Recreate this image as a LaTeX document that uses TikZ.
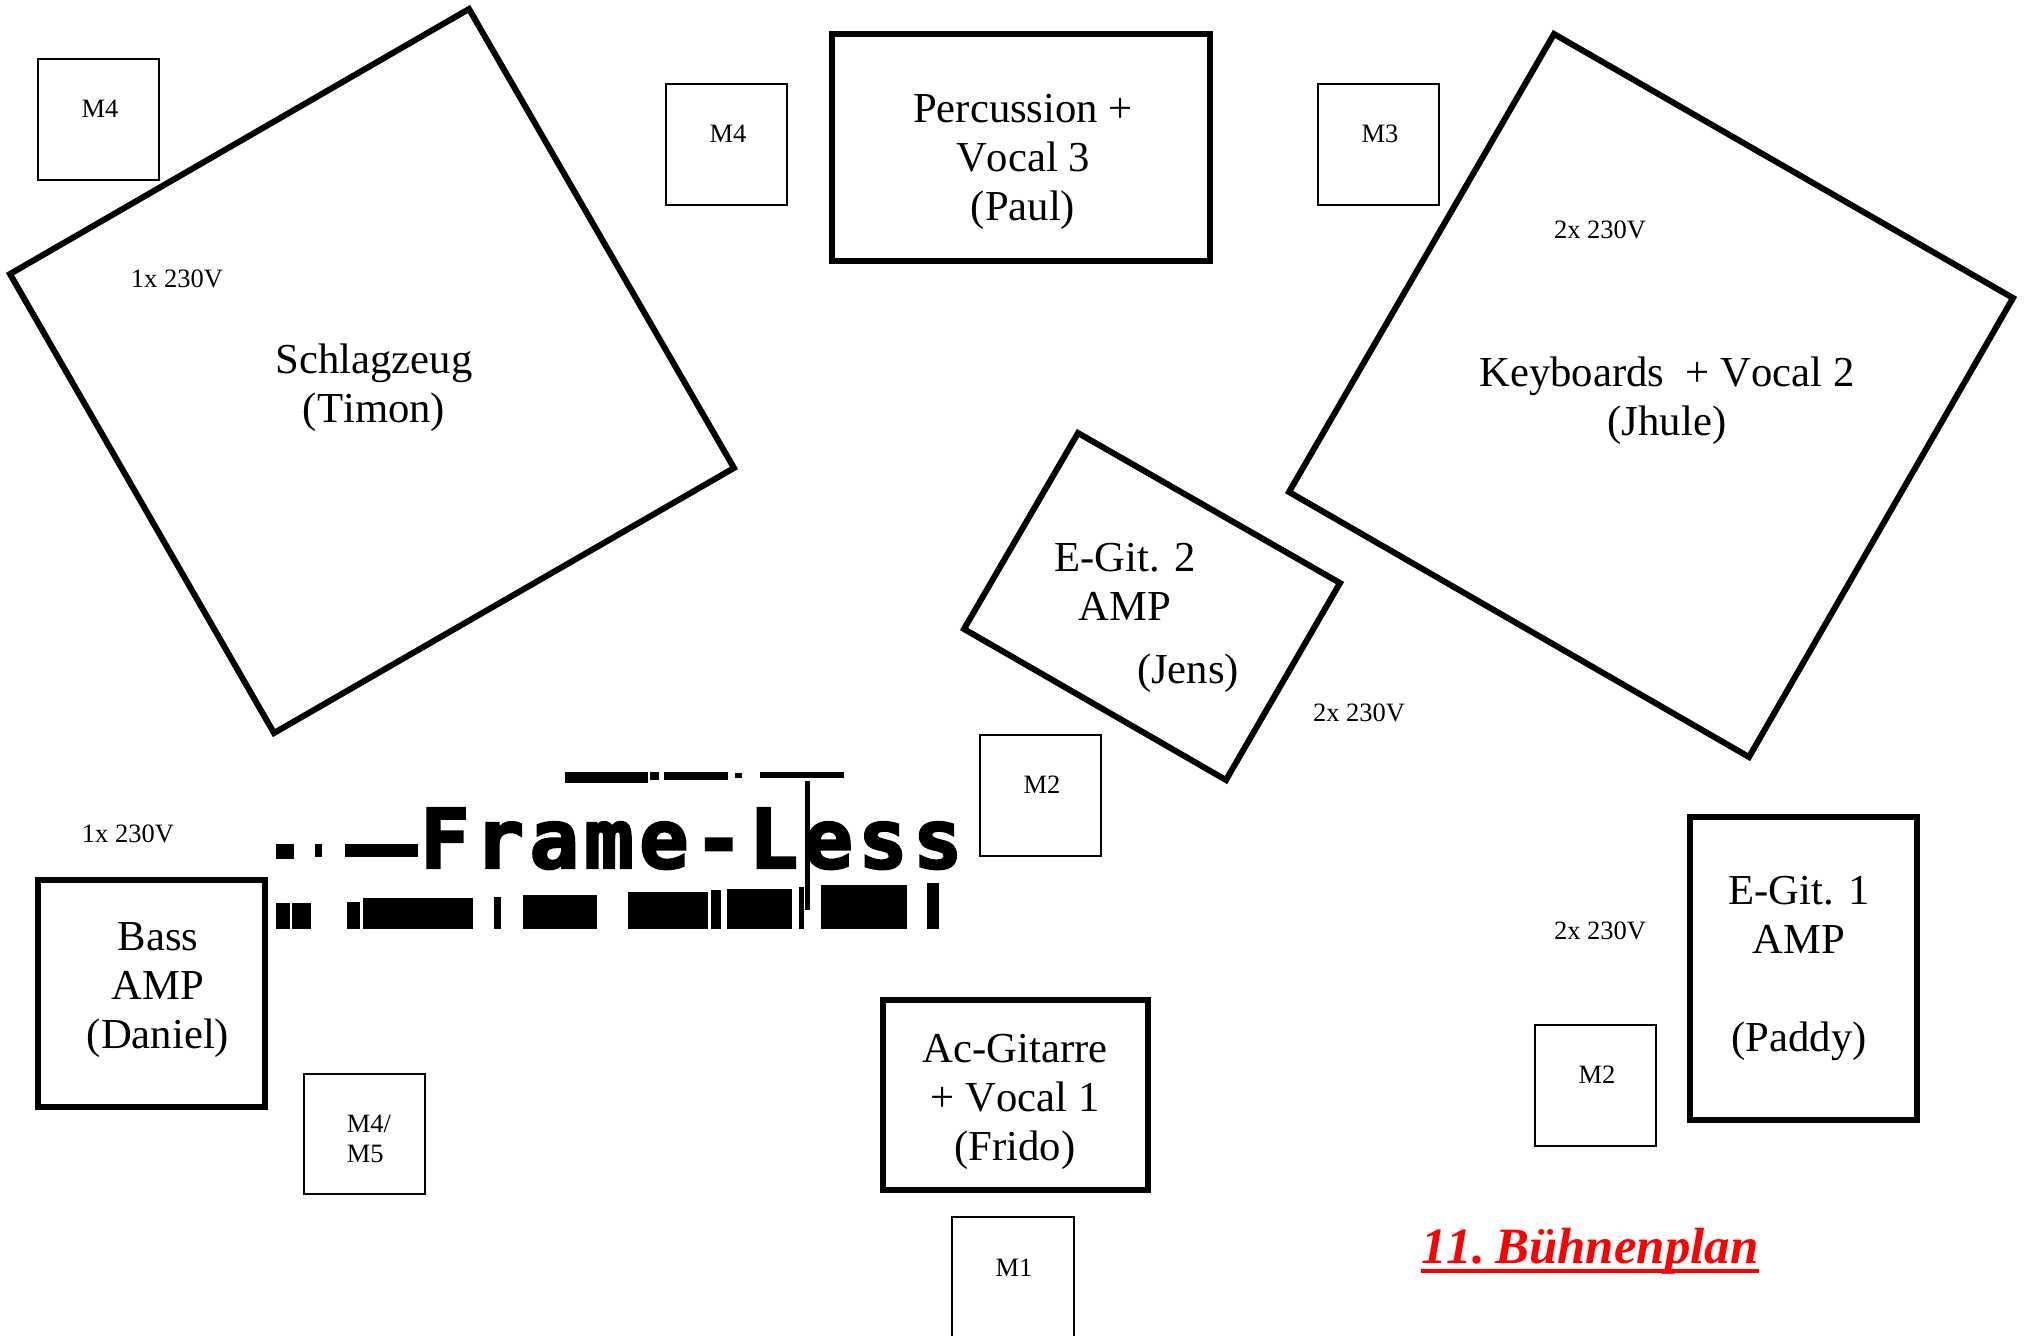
\documentclass[tikz,border=0pt]{standalone}
\usepackage{fontspec}
\setmainfont{Liberation Serif}[Kerning=Off]
\newfontfamily\logofont{DejaVu Sans Mono}[LetterSpace=6.6,FakeBold=3]
\usetikzlibrary{calc}
\definecolor{TitleRed}{RGB}{255, 0, 0}
\tikzset{
  stageline/.style={draw=black, line width=6pt, line join=miter},
  micline/.style={draw=black, line width=1.6pt},
  player/.style={inner sep=0pt, align=center, font=\fontsize{42.7}{49}\selectfont},
  small/.style={inner sep=0pt, align=left, font=\fontsize{26.5}{30}\selectfont}
}

\begin{document}
\begin{tikzpicture}[x=1pt, y=-1pt]
  \useasboundingbox (0,0) rectangle (2026,1336);

  % Rotated stage areas
  \draw[stageline] (469,9) -- (734,468) -- (274,733) -- (10,274) -- cycle;
  \draw[stageline] (1554,34) -- (2013,298) -- (1749,757) -- (1289,492) -- cycle;
  \draw[stageline] (1078,433) -- (1340,583) -- (1226,780) -- (964,629) -- cycle;

  % Straight stage areas
  \draw[stageline] (832,34) rectangle (1210,261);
  \draw[stageline] (883,1000) rectangle (1148,1190);
  \draw[stageline] (38,880) rectangle (265,1107);
  \draw[stageline] (1690,817) rectangle (1917,1120);

  % Players
  \node[player] (drums) at (374,388) {Schlagzeug\\(Timon)};
  \node[player] (perc) at (1023,162) {Percussion +\\Vocal 3\\(Paul)};
  \node[player] (keys) at (1667,401) {Keyboards~ + Vocal 2\\(Jhule)};
  \node[player] (gitB) at (1125,582) {E-Git. 2\\AMP};
  \node[player] (jens) at (1188,673) {(Jens)};
  \node[player] (bass) at (158,990) {Bass\\AMP\\(Daniel)};
  \node[player] (acgit) at (1015,1102) {Ac-Gitarre\\+ Vocal 1\\(Frido)};
  \node[player] (gitA) at (1799,968) {E-Git. 1\\AMP\\~\\(Paddy)};

  % Microphones
  \foreach \xa/\ya/\lbl/\nm in {38/59/M4/micA, 666/84/M4/micB, 1318/84/M3/micC, 980/735/M2/micD, 1535/1025/M2/micE} {
    \draw[micline] (\xa,\ya) rectangle (\xa+121,\ya+121);
    \node[small] (\nm) at (\xa+62,\ya+50) {\lbl};
  }
  \draw[micline] (304,1074) rectangle (425,1194);
  \node[small] (micF) at (369,1139) {M4/\\M5};
  \draw[micline] (952,1336) -- (952,1217) -- (1074,1217) -- (1074,1336);
  \node[small] (micG) at (1014,1268) {M1};

  % Power
  \node[small] (powA) at (177,279) {1x 230V};
  \node[small] (powB) at (128,834) {1x 230V};
  \node[small] (powC) at (1600,230) {2x 230V};
  \node[small] (powD) at (1359,713) {2x 230V};
  \node[small] (powE) at (1600,931) {2x 230V};

  % Logo
  \foreach \xa/\xb/\ytop in {276/290/903, 292/311/903, 347/360/902, 363/473/898, 494/501/897, 523/597/895, 628/708/892, 711/721/890, 727/792/889, 799/804/887, 821/907/885, 927/939/883} {
    \fill[black] (\xa,\ytop) rectangle (\xb,929);
  }
  \foreach \xa/\xb/\ya/\yb in {565/648/772/783, 650/659/772/780, 664/728/772/780, 735/742/773/778, 760/844/772/778, 276/294/844/859, 315/322/844/857, 345/418/844/857, 805/810/781/910} {
    \fill[black] (\xa,\ya) rectangle (\xb,\yb);
  }
  \node[inner sep=0pt, anchor=base west] (logo) at (420,868) {\logofont\bfseries\fontsize{82}{90}\selectfont Frame-Less};

  % Title
  \node[inner sep=0pt, anchor=base west, text=TitleRed, font=\fontsize{50.9}{58}\selectfont\bfseries\itshape] (title) at (1421,1263) {11.\hspace{10.5pt}Bühnenplan};
  \draw[TitleRed, line width=4.5pt] ($(title.base west)+(0,8)$) -- ($(title.base east)+(0,8)$);
\end{tikzpicture}
\end{document}
